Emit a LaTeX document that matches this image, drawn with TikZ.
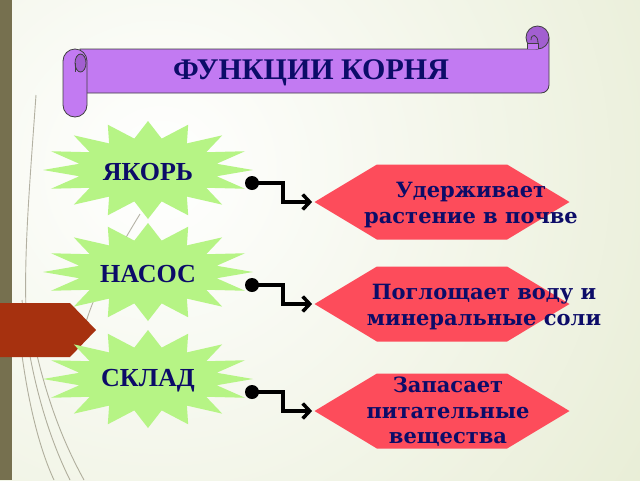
\documentclass[tikz,border=0pt]{standalone}
\usepackage{fontspec}
\setmainfont{DejaVu Serif}
\newfontfamily\timesfont{Liberation Serif}
\usetikzlibrary{arrows.meta,calc,positioning,shapes.symbols}
\definecolor{bggreen}{HTML}{DCE4C0}
\definecolor{bgside}{HTML}{76704F}
\definecolor{tabred}{HTML}{A6310F}
\definecolor{scrollfill}{HTML}{C27AF2}
\definecolor{rollfill}{HTML}{A25FD0}
\definecolor{starfill}{HTML}{B6F485}
\definecolor{hexred}{HTML}{FD4C5B}
\definecolor{navy}{HTML}{0C0C68}
\definecolor{twig}{HTML}{6E6851}

\newcommand\burst[1]{%
  \fill[starfill,shift={#1}] plot[samples at={0,...,31},variable=\k]
    ({(mod(\k,2)==0?105:70)*cos(\k*11.25)},{(mod(\k,2)==0?49:32)*sin(\k*11.25)}) -- cycle;}

\begin{document}
\begin{tikzpicture}[x=1pt,y=-1pt,>={Straight Barb[length=7pt,width=15pt]}]
  \tikzstyle{ttl}=[text=navy,font=\timesfont\bfseries\fontsize{30}{32}\selectfont]
  \tikzstyle{lbl}=[text=navy,font=\timesfont\bfseries\fontsize{26}{28}\selectfont]
  \tikzstyle{hexa}=[signal,signal to=east and west,signal pointer angle=62,fill=hexred,minimum width=255pt,minimum height=75pt,inner sep=0pt]
  \tikzstyle{txt}=[text=navy,align=center,font=\bfseries\fontsize{21}{25.5}\selectfont,inner sep=0pt]
  \tikzstyle{dot}=[circle,fill=black,minimum size=14pt,inner sep=0pt]
  \tikzstyle{conn}=[line width=3.5pt,->,shorten >=2pt]
  \tikzstyle{edge}=[draw=black!75,line width=0.8pt]

  \useasboundingbox (0,0) rectangle (640,480);
  \begin{scope}
    \clip (0,0) rectangle (640,480);
    \shade[inner color=white,outer color=bggreen] (160,170) circle (900pt);
  \end{scope}
  \fill[bgside] (0,0) rectangle (12,480);

  % thin twigs in the background
  \begin{scope}[twig,opacity=0.5,line width=0.9pt]
    \draw (36,95) .. controls (30,180) and (24,250) .. (26,310);
    \draw (22,300) .. controls (30,380) and (50,440) .. (70,480);
    \draw (28,312) .. controls (42,390) and (62,440) .. (84,480);
    \draw (18,322) .. controls (26,400) and (40,450) .. (54,480);
    \draw (140,214) .. controls (112,260) and (96,290) .. (86,322);
  \end{scope}

  \fill[tabred] (0,303) -- (70,303) -- (96,330) -- (70,357) -- (0,357) -- cycle;

  % scroll
  \filldraw[fill=scrollfill,edge] (80,49) -- (537,49) -- (537,38) -- (549,38) -- (549,85)
    arc[start angle=0,end angle=90,radius=8] -- (80,93) -- cycle;
  \filldraw[fill=rollfill,edge] (537.5,37.5) circle (11.5pt);
  \filldraw[fill=scrollfill,edge] (527,49) -- (527,43) -- (538,43) -- (538,49);
  \draw[edge] (538,43) .. controls (538,34) and (531,33) .. (531,40);
  \filldraw[fill=scrollfill,edge] (63,61) arc[start angle=180,end angle=360,radius=12]
    -- (87,105) arc[start angle=0,end angle=180,radius=12] -- cycle;
  \filldraw[fill=rollfill,edge] (80.5,63) ellipse (5.5pt and 9pt);
  \draw[edge] (75,63) -- (75,72);
  \node[ttl] (f) at (311,73) {ФУНКЦИИ КОРНЯ};

  \burst{(148,170)}
  \burst{(148,272)}
  \burst{(148,379)}
  \node[lbl] (s1) at (148,172) {ЯКОРЬ};
  \node[lbl] (s2) at (148,274) {НАСОС};
  \node[lbl] (s3) at (148,381) {СКЛАД};

  \node[hexa] (h1) at (442,202) {};
  \node[hexa] (h2) at (442,304) {};
  \node[hexa] (h3) at (442,411) {};
  \node[txt] (t1) at (471,205) {Удерживает\\растение в почве};
  \node[txt] (t2) at (484,307) {Поглощает воду и\\минеральные соли};
  \node[txt] (t3) at (448,412) {Запасает\\питательные\\вещества};

  \node[dot] (p1) at (252,183) {};
  \node[dot] (p2) at (252,285) {};
  \node[dot] (p3) at (252,392) {};
  \draw[conn] (p1.center) -- ++(31,0) |- (h1.west);
  \draw[conn] (p2.center) -- ++(31,0) |- (h2.west);
  \draw[conn] (p3.center) -- ++(31,0) |- (h3.west);
\end{tikzpicture}
\end{document}
